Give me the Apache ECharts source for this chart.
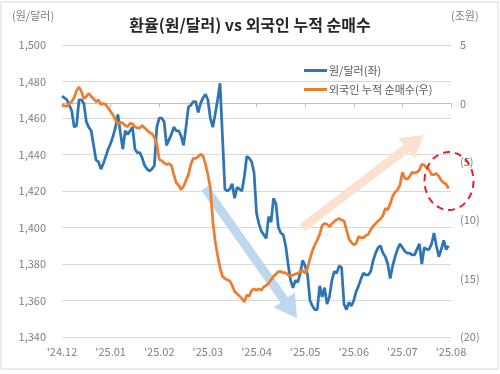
<!DOCTYPE html>
<html><head><meta charset="utf-8">
<script src="https://cdn.jsdelivr.net/npm/echarts@6/dist/echarts.min.js"></script>
<style>html,body{margin:0;padding:0;background:#fff}#c{width:500px;height:374px}</style>
</head><body><div id="c"></div>
<script>
const monthLabels = ["'24.12","'25.01","'25.02","'25.03","'25.04","'25.05","'25.06","'25.07","'25.08"];
const pointsPerMonth = 20;
const fxRate = [
1472,1471,1470,1467,1464,1455,1456,1470,1470,1468,
1458,1455,1453,1445,1437,1436,1432,1435,1439,1443,
1446,1450,1455,1462,1452,1443,1453,1451,1453,1455,
1443,1441,1441,1438,1434,1432,1431,1432,1434,1455,
1460,1460,1458,1445,1448,1451,1455,1453,1453,1450,
1445,1455,1466,1467,1469,1469,1463,1468,1471,1473,
1470,1460,1455,1462,1470,1479,1450,1421,1420,1421,
1424,1416,1422,1421,1420,1428,1439,1438,1436,1430,
1408,1402,1398,1396,1394,1406,1403,1416,1413,1400,
1397,1396,1390,1380,1371,1367,1371,1370,1375,1382,
1379,1374,1360,1357,1355,1355,1368,1362,1367,1358,
1362,1371,1376,1375,1379,1378,1358,1355,1359,1357,
1360,1365,1368,1372,1375,1374,1374,1376,1382,1386,
1389,1390,1386,1384,1380,1372,1379,1384,1388,1391,
1389,1387,1386,1386,1385,1385,1388,1391,1380,1389,
1388,1388,1391,1397,1390,1384,1388,1393,1388,1390
];
const foreignNetBuy = [
-0.15,-0.2,-0.25,0.0,0.15,0.5,1.1,1.4,1.0,0.4,
0.6,0.85,0.6,0.4,0.15,0.3,-0.1,0.0,-0.1,-0.4,
-0.7,-1.0,-1.4,-1.8,-1.6,-1.7,-1.9,-2.0,-1.7,-1.75,
-2.0,-2.1,-2.1,-1.9,-2.1,-2.3,-2.5,-2.6,-2.9,-3.5,
-4.8,-4.9,-5.1,-5.25,-5.15,-5.3,-6.1,-6.8,-7.0,-7.4,
-7.1,-6.6,-6.1,-5.2,-4.7,-4.7,-4.55,-4.35,-4.5,-5.2,
-6.1,-7.2,-10.0,-11.8,-13.0,-14.1,-14.8,-15.0,-15.1,-15.2,
-15.6,-16.1,-16.3,-16.5,-16.7,-17.0,-16.4,-16.5,-16.0,-15.9,
-16.0,-15.9,-16.0,-15.7,-15.6,-15.4,-15.1,-14.8,-14.6,-14.4,
-14.4,-14.5,-14.5,-14.7,-14.75,-14.7,-14.6,-14.55,-14.4,-14.3,
-14.55,-14.1,-13.3,-12.6,-12.1,-11.7,-11.2,-10.45,-10.3,-10.35,
-10.55,-10.3,-10.1,-9.95,-9.85,-10.0,-10.05,-10.8,-11.6,-11.9,
-12.1,-12.0,-11.4,-11.5,-11.5,-11.3,-11.2,-10.8,-10.5,-10.3,
-10.05,-9.9,-9.6,-9.0,-9.1,-8.6,-7.95,-7.6,-7.4,-7.0,
-5.9,-6.4,-6.5,-6.25,-5.9,-5.95,-5.9,-5.7,-5.2,-5.3,
-5.5,-5.7,-6.1,-6.1,-6.0,-6.25,-6.6,-6.8,-6.9,-7.3
];
const seriesNames = ['원/달러(좌)', '외국인 누적 순매수(우)'];
const titleText = '환율(원/달러) vs 외국인 누적 순매수';
const leftUnit = '(원/달러)';
const rightUnit = '(조원)';

const FONT = "'Noto Sans CJK KR', 'Noto Sans', sans-serif";
const totalSlots = (monthLabels.length - 1) * pointsPerMonth;
const categories = [];
for (let i = 0; i <= totalSlots; i++) categories.push(String(i));

function arrowPoints(x1, y1, x2, y2, sw, hw, hl) {
  const dx = x2 - x1, dy = y2 - y1, L = Math.hypot(dx, dy);
  const ux = dx / L, uy = dy / L, nx = -uy, ny = ux;
  const bx = x2 - ux * hl, by = y2 - uy * hl;
  return [[x1 + nx * sw, y1 + ny * sw], [bx + nx * sw, by + ny * sw], [bx + nx * hw, by + ny * hw],
          [x2, y2], [bx - nx * hw, by - ny * hw], [bx - nx * sw, by - ny * sw], [x1 - nx * sw, y1 - ny * sw]];
}

const chart = echarts.init(document.getElementById('c'), null, { renderer: 'canvas' });
chart.setOption({
  animation: false,
  backgroundColor: '#fff',
  textStyle: { fontFamily: FONT },
  title: {
    text: titleText, left: 'center', top: 12,
    textStyle: { fontFamily: FONT, fontSize: 16, fontWeight: 'bold', color: '#262626' }
  },
  legend: {
    orient: 'vertical', left: 299, top: 60, itemGap: 8, itemWidth: 23, itemHeight: 3, icon: 'rect',
    textStyle: { fontFamily: FONT, fontSize: 11, color: '#595959', padding: [0, 0, 0, -3] },
    data: seriesNames
  },
  grid: { left: 62, right: 49, top: 45, bottom: 37, containLabel: false },
  xAxis: {
    type: 'category', data: categories, boundaryGap: false,
    axisLine: { lineStyle: { color: '#bfbfbf', width: 1 } },
    axisTick: { show: true, length: 4, lineStyle: { color: '#bfbfbf' }, interval: (i) => i % pointsPerMonth === 0 },
    axisLabel: {
      interval: (i) => i % pointsPerMonth === 0,
      formatter: (v, i) => monthLabels[i / pointsPerMonth],
      color: '#7f7f7f', fontSize: 11, margin: 9, fontFamily: FONT
    },
    splitLine: { show: false }
  },
  yAxis: [
    {
      type: 'value', min: 1340, max: 1500, interval: 20, position: 'left',
      axisLine: { show: false }, axisTick: { show: false },
      axisLabel: {
        formatter: (v) => v.toLocaleString('en-US'),
        color: '#7f7f7f', fontSize: 11, margin: 16, fontFamily: FONT
      },
      splitLine: { lineStyle: { color: '#d9d9d9', width: 1 } }
    },
    {
      type: 'value', min: -20, max: 5, interval: 5, position: 'right',
      axisLine: { show: false }, axisTick: { show: false },
      axisLabel: {
        formatter: (v) => v < 0 ? '(' + (-v) + ')' : String(v),
        color: '#7f7f7f', fontSize: 11, margin: 9, fontFamily: FONT
      },
      splitLine: { show: false }
    }
  ],
  graphic: [
    { type: 'rect', shape: { x: 1, y: 2, width: 497, height: 367 }, style: { fill: 'none', stroke: '#d9d9d9', lineWidth: 1 }, z: 0, silent: true },
    { type: 'text', left: 12, top: 10, style: { text: leftUnit, fill: '#7f7f7f', font: '11px ' + FONT }, silent: true },
    { type: 'text', left: 451, top: 10, style: { text: rightUnit, fill: '#7f7f7f', font: '11px ' + FONT }, silent: true },
    { type: 'polygon', shape: { points: arrowPoints(205, 188, 297, 318, 4.5, 13, 22) }, style: { fill: '#bdd7ee' }, z: 1, silent: true },
    { type: 'polygon', shape: { points: arrowPoints(302, 228, 424, 135, 4.5, 13, 22) }, style: { fill: '#fbe2d0' }, z: 1, silent: true },
    { type: 'ellipse', shape: { cx: 449, cy: 181, rx: 24.5, ry: 29 }, style: { fill: 'none', stroke: '#e8202a', lineWidth: 2, lineDash: [7, 5] }, z: 100, silent: true }
  ],
  series: [
    {
      name: seriesNames[0], type: 'line', yAxisIndex: 0, data: fxRate,
      showSymbol: false, symbol: 'none', lineStyle: { color: '#2e75b6', width: 2.75 }, itemStyle: { color: '#2e75b6' }, z: 3
    },
    {
      name: seriesNames[1], type: 'line', yAxisIndex: 1, data: foreignNetBuy,
      showSymbol: false, symbol: 'none', lineStyle: { color: '#ed7d31', width: 2.75 }, itemStyle: { color: '#ed7d31' }, z: 4
    }
  ]
});
</script>
</body></html>
